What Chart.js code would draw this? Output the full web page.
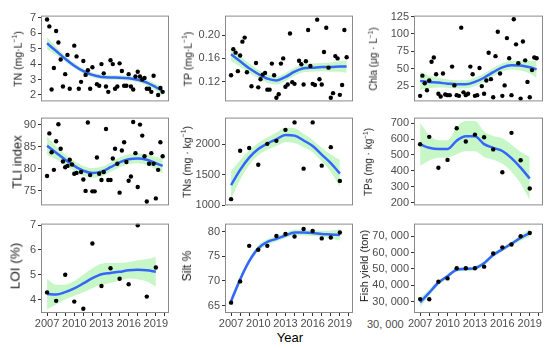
<!DOCTYPE html>
<html>
<head>
<meta charset="utf-8">
<script src="https://cdn.jsdelivr.net/npm/chart.js@4"></script>
<style>
  body { margin: 0; background: #fff; width: 550px; height: 348px; position: relative; overflow: hidden;
         font-family: "Liberation Sans", Arial, sans-serif; }
  canvas { position: absolute; }
  .yt { position: absolute; white-space: nowrap; color: #1a1a1a;
        transform: translate(-50%, -50%) rotate(-90deg); }
  .yt sup { font-size: 0.65em; }
  .lab { position: absolute; white-space: nowrap; }
</style>
</head>
<body>
<div class="lab" style="left:290px;top:337px;transform:translate(-50%,-50%);font-size:13px;color:#000">Year</div>
<div class="lab" style="left:367px;top:324px;transform:translateY(-50%);font-size:11px;color:#4d4d4d">30, 000</div>
<script>
// x positions
const years = [2007, 2008, 2009, 2010, 2011, 2012, 2013, 2014, 2015, 2016, 2017, 2018, 2019];
const quarterX = years.flatMap(y => [y, y + 0.25, y + 0.5, y + 0.75]);
const smoothDenseX = [2007, 2008, 2009, 2010, 2011, 2012, 2013, 2014, 2015, 2016, 2017, 2018, 2019, 2019.75];
const tickYears = [2007, 2008, 2009, 2010, 2011, 2012, 2013, 2014, 2015, 2016, 2017, 2018, 2019, 2020];
const labelYears = [2007, 2010, 2013, 2016, 2019];

// TN (quarterly)
const tnValues = [6.9,6.45,2.35,3.75,6.15,5.4,4.3,2.55,3.35,4.6, 2.4,null,5.2,4.5,2.4,2.85,4.2,3.3,3.6,2.4,
  3.8,null,2.7,2.6,4.0,3.4,2.55,2.2,4.25,4.0, 2.4,2.55,4.05,3.55,2.6,2.6,3.35,2.55,2.35,3.2,
  3.5,3.2,3.0,3.1,2.4,2.4,2.2,3.25,null,2.0, 2.45,2.2];
const tnFit  = [5.35,4.85,4.35,3.9,3.55,3.3,3.17,3.13,3.12,3.08,2.98,2.8,2.5,2.25];
const tnHalf = [0.4,0.26,0.2,0.17,0.16,0.15,0.15,0.15,0.15,0.15,0.16,0.18,0.22,0.3];
const tnTicks = [2, 3, 4, 5, 6, 7];

// TP (quarterly)
const tpValues = [.131,.176,.170,.138,.165,.189,.196,.136,null,.112, null,.152,.110,.124,.132,.135,.106,.106,.151,.131,
  .092,.098,.151,.160,.111,.115,.203,.119,.116,null, .156,.150,.115,.155,.209,.147,.116,.114,.227,.124,
  .115,.171,.213,.144,.092,.100,.164,.160,.097,.114, .209,.162];
const tpFit  = [.167,.155,.143,.133,.125,.122,.128,.137,.143,.144,.145,.145,.146,.146];
const tpHalf = [.012,.009,.008,.007,.007,.007,.007,.007,.007,.007,.007,.008,.009,.011];
const tpTicks = [0.12, 0.16, 0.20];

// Chla (quarterly)
const chlaValues = [11,40,29,19,33,60,66,42,14,10, 43,13,12,12,53,26,12,11,109,16,
  12,14,53,42,11,12,51,25,14,33, 73,35,9,68,103,43,11,26,94,65,
  12,121,85,58,7,89,62,31,9,48, 66,65];
const chlaFit  = [32.5,31,30,28.5,27.5,27.5,31,37,45,52,55,54.5,52,49];
const chlaHalf = [13,9,7,6,6,6,6,6,6,6,6,7,9,12];
const chlaTicks = [25, 50, 75, 100, 125];

// TLI (quarterly)
const tliValues = [78.3,88.0,83.7,79.7,86.2,90.1,84.5,81.6,80.3,80.6, 82.0,80.9,78.8,79.0,null,79.2,77.5,74.9,90.5,78.5,
  74.8,74.8,82.5,78.8,77.4,79.2,89.0,77.4,77.4,82.3, 84.5,81.1,74.5,84.1,86.0,81.5,77.2,78.2,90.6,83.5,
  75.8,90.0,87.5,82.8,72.5,81.1,83.5,81.1,73.2,79.7, 86.0,82.8];
const tliFit  = [85.2,83.6,82.0,80.6,79.5,79.0,79.3,80.3,81.4,82.1,82.3,82.0,81.2,80.6];
const tliHalf = [2.1,1.5,1.2,1.1,1.1,1.1,1.1,1.1,1.1,1.1,1.1,1.2,1.4,1.7];
const tliTicks = [75, 80, 85, 90];

// TNs (yearly)
const tnsValues = [1102,1893,1937,1663,2005,2054,2234,2356,1600,2356,1649,1951,1400];
const tnsFit  = [1330,1580,1780,1920,2010,2080,2150,2140,2060,1970,1830,1690,1520];
const tnsHalf = [230,160,120,100,100,110,120,120,110,100,110,140,220];
const tnsTicks = [1000, 1500, 2000];

// TPs (yearly)
const tpsValues = [567,614,420,469,668,585,628,611,535,391,639,467,289];
const tpsFit  = [567,545,537,538,590,618,618,568,545,525,480,420,352];
const tpsHalf = [135,80,55,55,85,95,95,80,75,80,85,100,135];
const tpsTicks = [200, 300, 400, 500, 600, 700];

// LOI (yearly)
const loiValues = [4.29,3.95,5.0,3.92,3.63,6.26,4.55,5.26,4.84,4.62,6.99,4.12,5.29];
const loiFit  = [4.22,4.2,4.3,4.45,4.65,4.86,5.02,5.07,5.12,5.18,5.2,5.18,5.12];
const loiHalf = [0.62,0.4,0.3,0.3,0.35,0.4,0.42,0.4,0.35,0.33,0.38,0.45,0.6];
const loiTicks = [4, 5, 6, 7];

// Silt (yearly)
const siltValues = [65.6,69.9,77.1,76.3,77.1,79.1,79.5,79.0,80.5,80.1,78.6,78.8,79.8];
const siltFit  = [65.9,70.3,74.0,76.6,77.9,78.5,79.2,79.8,79.8,79.7,79.5,79.4,79.3];
const siltHalf = [0.9,0.7,0.6,0.6,0.6,0.5,0.5,0.6,0.6,0.6,0.6,0.8,1.1];
const siltTicks = [65, 70, 75, 80];

// Fish yield (yearly)
const fishValues = [31500,31400,42200,44200,50400,50400,50400,51400,59400,63200,65000,70000,72000];
const fishFit  = [29500,35500,41500,45500,49500,50000,50500,53500,58500,62000,65500,69000,72000];
const fishHalf = [3000,2000,1500,1300,1300,1300,1300,1300,1300,1300,1300,1700,2500];
const fishTicks = [30000, 40000, 50000, 60000, 70000];

const rowTop = [11, 113, 219];
const rowH = [95, 97, 94];
const colLeft = [41, 225, 414];
const colW = [128, 128, 129];

const panels = [
  { r: 0, c: 0, title: 'TN (mg·L<sup>−1</sup>)', tx: 17, fs: 10.5, x: quarterX, y: tnValues, sx: smoothDenseX, fit: tnFit, half: tnHalf, min: 1.58, max: 7.15, ticks: tnTicks },
  { r: 0, c: 1, title: 'TP (mg·L<sup>−1</sup>)', tx: 187, fs: 10.5, x: quarterX, y: tpValues, sx: smoothDenseX, fit: tpFit, half: tpHalf, min: 0.0857, max: 0.234, ticks: tpTicks, fmt: v => v.toFixed(2) },
  { r: 0, c: 2, title: 'Chla (μg · L<sup>−1</sup>)', tx: 373, fs: 10, x: quarterX, y: chlaValues, sx: smoothDenseX, fit: chlaFit, half: chlaHalf, min: 3, max: 126.3, ticks: chlaTicks },
  { r: 1, c: 0, title: 'TLI index', tx: 17, fs: 13, x: quarterX, y: tliValues, sx: smoothDenseX, fit: tliFit, half: tliHalf, min: 71.6, max: 91.6, ticks: tliTicks },
  { r: 1, c: 1, title: 'TNs (mg · kg<sup>−1</sup>)', tx: 186, fs: 10.5, x: years, y: tnsValues, sx: years, fit: tnsFit, half: tnsHalf, min: 1000, max: 2434, ticks: tnsTicks },
  { r: 1, c: 2, title: 'TPs (mg · kg<sup>−1</sup>)', tx: 368, fs: 10, x: years, y: tpsValues, sx: years, fit: tpsFit, half: tpsHalf, min: 183, max: 735, ticks: tpsTicks },
  { r: 2, c: 0, title: 'LOI (%)', tx: 15, fs: 13.5, x: years, y: loiValues, sx: years, fit: loiFit, half: loiHalf, min: 3.46, max: 7.06, ticks: loiTicks },
  { r: 2, c: 1, title: 'Silt %', tx: 187, fs: 12, x: years, y: siltValues, sx: years, fit: siltFit, half: siltHalf, min: 63.5, max: 81.6, ticks: siltTicks },
  { r: 2, c: 2, title: 'Fish yield (ton)', tx: 364, fs: 11, x: years, y: fishValues, sx: years, fit: fishFit, half: fishHalf, min: 23000, max: 77760, ticks: fishTicks, fmt: v => (v / 1000) + ', 000' }
];

Chart.defaults.font.family = '"Liberation Sans", Arial, sans-serif';
Chart.defaults.font.size = 11;
Chart.defaults.color = '#4d4d4d';

// grey border round each panel
const boxPlugin = {
  id: 'box',
  afterDraw(chart) {
    const { ctx, chartArea: a } = chart;
    ctx.save();
    ctx.strokeStyle = '#8a8a8a';
    ctx.lineWidth = 1;
    ctx.strokeRect(a.left + 0.5, a.top + 0.5, a.right - a.left - 1, a.bottom - a.top - 1);
    ctx.restore();
  }
};

const L = 44, T = 4, R = 6;

panels.forEach(p => {
  const bottomRow = p.r === 2;
  const B = bottomRow ? 24 : 4;
  const cv = document.createElement('canvas');
  cv.width = colW[p.c] + L + R;
  cv.height = rowH[p.r] + T + B;
  cv.style.left = (colLeft[p.c] - L) + 'px';
  cv.style.top = (rowTop[p.r] - T) + 'px';
  document.body.appendChild(cv);

  const t = document.createElement('div');
  t.className = 'yt';
  t.innerHTML = p.title;
  t.style.left = p.tx + 'px';
  t.style.top = (rowTop[p.r] + rowH[p.r] / 2) + 'px';
  t.style.fontSize = p.fs + 'px';
  document.body.appendChild(t);

  const pts = p.x.map((x, i) => ({ x: x, y: p.y[i] })).filter(d => d.y !== null);
  const fitPts = p.sx.map((x, i) => ({ x: x, y: p.fit[i] }));
  const hiPts = p.sx.map((x, i) => ({ x: x, y: p.fit[i] + p.half[i] }));
  const loPts = p.sx.map((x, i) => ({ x: x, y: p.fit[i] - p.half[i] }));

  new Chart(cv.getContext('2d'), {
    type: 'line',
    data: {
      datasets: [
        { data: pts, showLine: false, pointRadius: 2.2, pointBackgroundColor: '#000', pointBorderWidth: 0 },
        { data: fitPts, borderColor: '#3366ff', borderWidth: 2.5, pointRadius: 0, cubicInterpolationMode: 'monotone', fill: false },
        { data: hiPts, borderWidth: 0, pointRadius: 0, cubicInterpolationMode: 'monotone', fill: false },
        { data: loPts, borderWidth: 0, pointRadius: 0, cubicInterpolationMode: 'monotone', fill: '-1',
          backgroundColor: 'rgba(144, 238, 144, 0.5)' }
      ]
    },
    options: {
      responsive: false,
      animation: false,
      layout: { padding: { top: T, right: R, bottom: bottomRow ? 0 : B, left: 0 } },
      plugins: { legend: { display: false }, tooltip: { enabled: false } },
      scales: {
        x: {
          type: 'linear', min: 2006.33, max: 2020.45, display: bottomRow,
          afterBuildTicks: s => { s.ticks = tickYears.map(v => ({ value: v })); },
          afterFit: s => { s.height = B; },
          grid: { drawOnChartArea: false, tickLength: 3, color: '#333' },
          border: { display: false },
          ticks: { autoSkip: false, maxRotation: 0, padding: 1,
                   callback: v => labelYears.includes(v) ? String(v) : '' }
        },
        y: {
          min: p.min, max: p.max,
          afterBuildTicks: s => { s.ticks = p.ticks.map(v => ({ value: v })); },
          afterFit: s => { s.width = L; },
          grid: { drawOnChartArea: false, tickLength: 3, color: '#333' },
          border: { display: false },
          ticks: { autoSkip: false, padding: 2, callback: v => p.fmt ? p.fmt(v) : String(v) }
        }
      }
    },
    plugins: [boxPlugin]
  });
});
</script>
</body>
</html>
